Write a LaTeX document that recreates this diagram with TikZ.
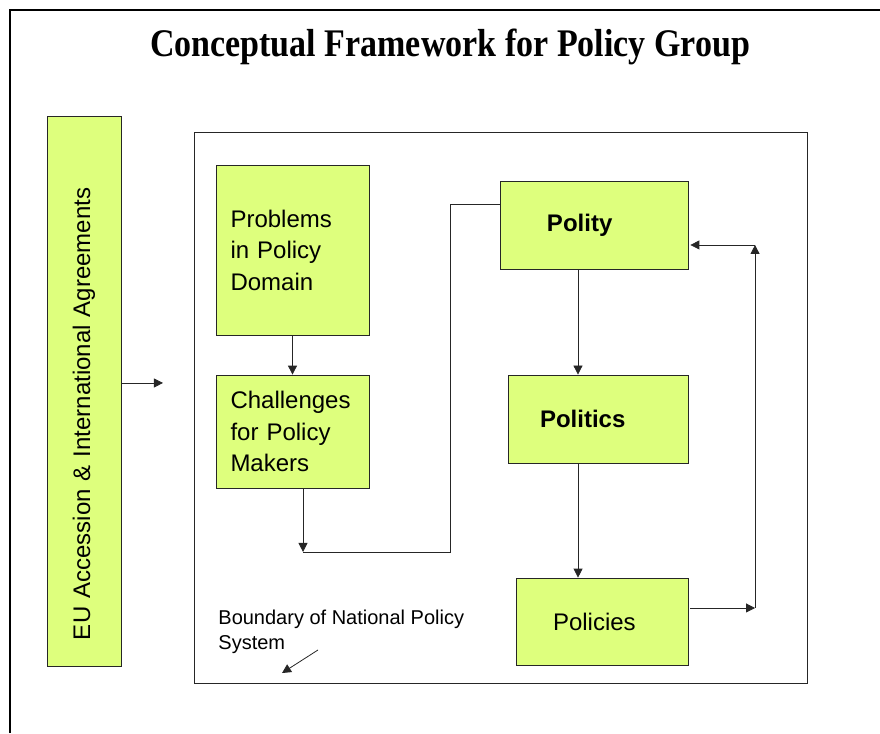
\documentclass[tikz,border=0pt]{standalone}
\usepackage{fontspec}
\setmainfont{Liberation Serif}
\setsansfont{Liberation Sans}
\usetikzlibrary{arrows.meta}
\definecolor{boxlime}{RGB}{222,255,125}
\tikzset{
  stage/.style={draw=black!85, fill=boxlime, font=\sffamily\fontsize{12}{15.75}\selectfont,
    align=left, inner ysep=0pt},
  arr/.style={black!85, -{Triangle[length=4.5pt,width=4.5pt]}}
}
\begin{document}
\begin{tikzpicture}
    \useasboundingbox (0,0) rectangle (15.464,12.881);
    \draw[line width=1pt] (0.176,0) -- (0.176,12.705) -- (15.464,12.705);
    \node (title) at (7.908,12.05) {\scalebox{1}[1.15]{\fontsize{17}{20}\selectfont\bfseries Conceptual Framework for Policy Group}};
    % outside influence
    \node[stage, rotate=90, minimum height=37pt, text width=249pt, inner xsep=13pt] (eu) at (1.476,6.010) {EU Accession \& International Agreements};
    \coordinate (euend) at (2.864,6.151);
    \draw[arr] (eu.south |- euend) -- (euend);
    % national policy system
    \node[draw=black!85, minimum width=306.5pt, minimum height=275.5pt] (sysbox) at (8.795,5.720) {};
    \node[stage, text width=62pt, inner xsep=7.25pt, minimum height=85pt] (prob) at (5.140,8.488) {Problems\\in Policy\\Domain};
    \node[stage, text width=62pt, inner xsep=7.25pt, minimum height=56.5pt] (chal) at (5.140,5.298) {Challenges\\for Policy\\Makers};
    \node[stage, text width=47pt, inner xsep=23.5pt, minimum height=44pt, font=\sffamily\bfseries\fontsize{12}{16}\selectfont] (polity) at (10.438,8.927) {Polity};
    \node[stage, text width=58pt, inner xsep=16pt, minimum height=44pt, font=\sffamily\bfseries\fontsize{12}{16}\selectfont] (politics) at (10.509,5.518) {Politics};
    \node[stage, text width=49pt, inner xsep=18.5pt, minimum height=43.5pt] (policies) at (10.579,1.959) {Policies};
    \draw[arr] (prob.south) -- (chal.north);
    \coordinate (c1) at (5.325,3.181);
    \coordinate (c2) at (7.908,3.181);
    \coordinate (c3) at (7.908,9.296);
    \draw[arr] (chal.south -| c1) -- (c1);
    \draw[black!85] (c1) -- (c2) -- (c3) -- (c3 -| polity.west);
    \draw[arr] ([xshift=-8pt]polity.south) -- ([xshift=-8pt]polity.south |- politics.north);
    \draw[arr] ([xshift=-10pt]politics.south) -- ([xshift=-10pt]politics.south |- policies.north);
    \coordinate (r1) at (13.268,2.197);
    \coordinate (r2) at (13.268,8.576);
    \draw[arr, shorten <=1pt] (policies.east |- r1) -- (r1);
    \draw[arr] (r1) -- (r2);
    \draw[arr, shorten >=1pt] (r2) -- (r2 -| polity.east);
    % boundary note
    \node[anchor=west, align=left, inner sep=0pt, font=\sffamily\fontsize{10}{12.5}\selectfont] (bndlabel) at (3.831,1.775) {Boundary of National Policy\\System};
    \coordinate (bndtail) at (5.588,1.459);
    \coordinate (bndhead) at (4.956,1.054);
    \draw[arr] (bndtail) -- (bndhead);
\end{tikzpicture}
\end{document}
